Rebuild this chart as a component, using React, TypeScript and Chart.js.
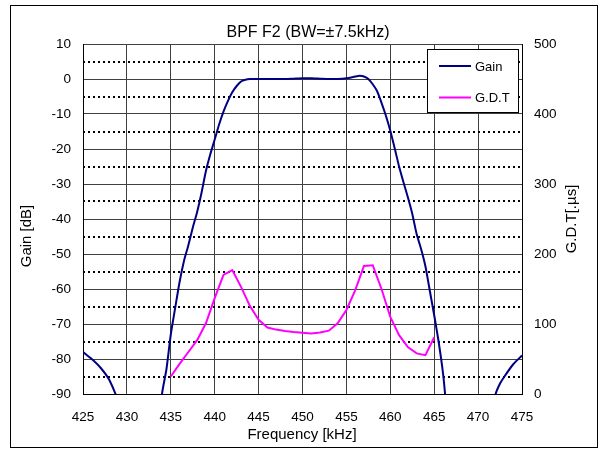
import React, { useEffect, useRef } from "react";
import { Chart, registerables } from "chart.js";

Chart.register(...registerables);

const TITLE = "BPF F2 (BW=±7.5kHz)";
const X_TITLE = "Frequency [kHz]";
const Y_TITLE = "Gain [dB]";
const Y2_TITLE = "G.D.T[.µs]";
const SERIES_NAMES = ["Gain", "G.D.T"];

const gainFreq = [
  425, 426, 427, 428, 429, 430, 431,
  433.5, 434, 434.5, 435, 435.5, 436, 436.5, 437, 437.5, 438, 438.5, 439, 439.5,
  440, 440.5, 441, 441.5, 442, 442.5, 443, 443.5, 444, 445, 446, 447, 448, 449,
  450, 451, 452, 453, 454, 455, 456, 456.5, 457, 457.5, 458, 458.5, 459, 459.5,
  460, 460.5, 461, 461.5, 462, 462.5, 463, 463.5, 464, 464.5, 465, 465.5, 466,
  466.3, 466.6, 467, 471.5, 471.8, 472, 472.5, 473, 474, 475,
];
const gainValues: (number | null)[] = [
  -78, -80, -82.5, -86, -92, -100, null,
  -110, -90, -83, -73, -65.4, -58, -52, -47.5, -42.5, -38, -32.5, -26.3, -21.5,
  -17.3, -13, -9.3, -6.3, -3.8, -2, -0.7, -0.2, 0, 0, 0, 0, 0, 0.1,
  0.2, 0.2, 0.1, 0, 0, 0.2, 0.7, 0.9, 0.7, 0, -1.5, -3.5, -6.8, -10.5,
  -14.8, -19.8, -25, -29.5, -33.8, -38.5, -44.3, -48.5, -53.5, -60.5, -67.5, -75, -84,
  -92, -105, null, null, -95, -90, -87, -85, -81.5, -79,
];

const gdtFreq = [
  435, 436, 437, 438, 439, 440, 441, 442, 443, 444, 445, 446, 447, 448, 449, 450,
  451, 452, 453, 454, 455, 456, 457, 458, 459, 460, 461, 462, 463, 464, 465,
];
const gdtValues = [
  25, 43, 60, 77, 101, 137, 170, 177, 153, 126, 106, 95, 92, 90, 88.5, 87.5,
  86.6, 88, 90.5, 101, 120, 148, 183, 184, 150, 110, 84, 67, 58, 55.5, 81,
];

const gainTicks = [-90, -80, -70, -60, -50, -40, -30, -20, -10, 0, 10];
const dotTicks = [-85, -75, -65, -55, -45, -35, -25, -15, -5, 5];
const gdtTicks = [0, 100, 200, 300, 400, 500];
const freqTicks = [425, 430, 435, 440, 445, 450, 455, 460, 465, 470, 475];

const FONT = "'Liberation Sans', Arial, sans-serif";
const GAIN_COLOR = "#000080";
const GDT_COLOR = "#ff00ff";
const GRID_COLOR = "#404040";

const decorPlugin = {
  id: "decor",
  beforeDraw(chart: any) {
    const ctx = chart.ctx;
    ctx.save();
    ctx.fillStyle = "#fff";
    ctx.fillRect(0, 0, chart.width, chart.height);
    ctx.restore();
  },
  afterDraw(chart: any) {
    const ctx = chart.ctx;
    ctx.save();
    // outer frame
    ctx.strokeStyle = "#000";
    ctx.lineWidth = 1;
    ctx.strokeRect(10.5, 5.5, 587, 442);

    ctx.fillStyle = "#000";
    // title
    ctx.font = `16px ${FONT}`;
    ctx.textAlign = "center";
    ctx.textBaseline = "alphabetic";
    ctx.fillText(TITLE, 308, 36.5);

    // x title
    ctx.font = `15px ${FONT}`;
    ctx.fillText(X_TITLE, 302, 439);

    // left title
    ctx.save();
    ctx.translate(30.5, 236);
    ctx.rotate(-Math.PI / 2);
    ctx.fillText(Y_TITLE, 0, 0);
    ctx.restore();

    // right title
    ctx.save();
    ctx.translate(575.5, 219);
    ctx.rotate(-Math.PI / 2);
    ctx.fillText(Y2_TITLE, 0, 0);
    ctx.restore();

    // legend
    ctx.fillStyle = "#fff";
    ctx.fillRect(428, 50, 90, 63);
    ctx.strokeStyle = "#000";
    ctx.lineWidth = 1;
    ctx.strokeRect(427.5, 49.5, 91, 63);
    ctx.lineWidth = 2;
    ctx.strokeStyle = GAIN_COLOR;
    ctx.beginPath();
    ctx.moveTo(439, 66);
    ctx.lineTo(471, 66);
    ctx.stroke();
    ctx.strokeStyle = GDT_COLOR;
    ctx.beginPath();
    ctx.moveTo(439, 97.5);
    ctx.lineTo(471, 97.5);
    ctx.stroke();
    ctx.fillStyle = "#000";
    ctx.font = `13px ${FONT}`;
    ctx.textAlign = "left";
    ctx.fillText(SERIES_NAMES[0], 475, 70.7);
    ctx.fillText(SERIES_NAMES[1], 475, 102);
    ctx.restore();
  },
};

export default function App() {
  const ref = useRef<HTMLCanvasElement | null>(null);

  useEffect(() => {
    if (!ref.current) return;
    const tickFont = { family: FONT, size: 13.5 };
    const chart = new Chart(ref.current, {
      type: "line",
      data: {
        datasets: [
          {
            label: SERIES_NAMES[1],
            data: gdtFreq.map((f, i) => ({ x: f, y: gdtValues[i] })),
            yAxisID: "y2",
            borderColor: GDT_COLOR,
            borderWidth: 2,
            pointRadius: 0,
            tension: 0,
            clip: 0,
          },
          {
            label: SERIES_NAMES[0],
            data: gainFreq.map((f, i) => ({ x: f, y: gainValues[i] })),
            yAxisID: "y",
            borderColor: GAIN_COLOR,
            borderWidth: 2,
            pointRadius: 0,
            tension: 0.2,
            spanGaps: false,
            clip: 0,
          },
        ] as any,
      },
      options: {
        animation: false,
        responsive: false,
        maintainAspectRatio: false,
        layout: { padding: { top: 44, left: 0, right: 0, bottom: 0 } },
        plugins: {
          legend: { display: false },
          tooltip: { enabled: false },
          title: { display: false },
        },
        scales: {
          x: {
            type: "linear",
            position: "bottom",
            min: 425,
            max: 475,
            afterBuildTicks: (s: any) => {
              s.ticks = freqTicks.map((v) => ({ value: v }));
            },
            afterFit: (s: any) => {
              s.height = 56;
            },
            ticks: {
              font: tickFont,
              color: "#000",
              padding: 15,
              maxRotation: 0,
              autoSkip: false,
              callback: (v: any) => String(v),
            },
            grid: { color: GRID_COLOR, lineWidth: 1, drawTicks: false },
            border: { color: "#000", width: 1 },
          },
          y: {
            type: "linear",
            position: "left",
            min: -90,
            max: 10,
            afterBuildTicks: (s: any) => {
              s.ticks = gainTicks.map((v) => ({ value: v }));
            },
            afterFit: (s: any) => {
              s.width = 83;
            },
            ticks: {
              font: tickFont,
              color: "#000",
              padding: 12,
              autoSkip: false,
              callback: (v: any) => String(v),
            },
            grid: { color: GRID_COLOR, lineWidth: 1, drawTicks: false },
            border: { color: "#000", width: 1 },
          },
          yDot: {
            type: "linear",
            position: "left",
            min: -90,
            max: 10,
            afterBuildTicks: (s: any) => {
              s.ticks = dotTicks.map((v) => ({ value: v }));
            },
            afterFit: (s: any) => {
              s.width = 0;
            },
            ticks: { display: false },
            grid: { color: "#000", lineWidth: 2, drawTicks: false },
            border: { display: false, dash: [2, 3] },
          },
          y2: {
            type: "linear",
            position: "right",
            min: 0,
            max: 500,
            afterBuildTicks: (s: any) => {
              s.ticks = gdtTicks.map((v) => ({ value: v }));
            },
            afterFit: (s: any) => {
              s.width = 79;
            },
            ticks: {
              font: tickFont,
              color: "#000",
              padding: 12,
              autoSkip: false,
              callback: (v: any) => String(v),
            },
            grid: { drawOnChartArea: false, drawTicks: false },
            border: { color: "#000", width: 1 },
          },
        },
      } as any,
      plugins: [decorPlugin],
    });
    return () => chart.destroy();
  }, []);

  return (
    <div style={{ position: "absolute", left: 0, top: 0, width: 601, height: 450 }}>
      <canvas ref={ref} width={601} height={450} />
    </div>
  );
}
